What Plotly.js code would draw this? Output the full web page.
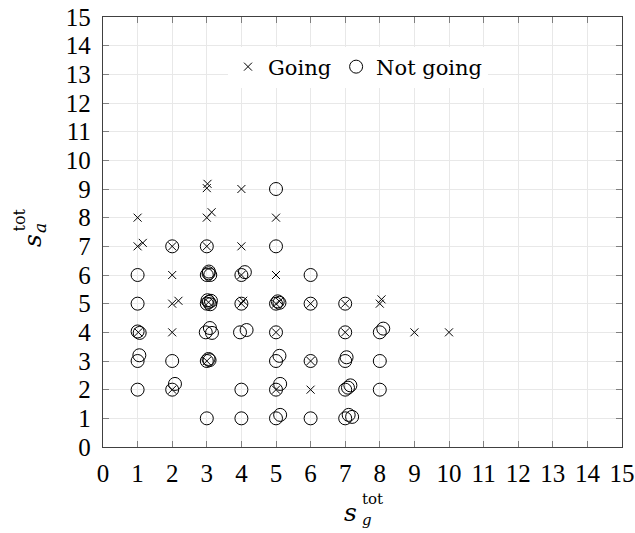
<!DOCTYPE html>
<html>
<head>
<meta charset="utf-8">
<script src="https://cdn.plot.ly/plotly-3.0.1.min.js"></script>
<style>html,body{margin:0;padding:0;background:#fff}#chart{width:635px;height:533px}</style>
</head>
<body>
<div id="chart"></div>
<script>
// Going (×) points (jittered duplicates included)
const goingX = [1, 1, 1.15, 2, 3, 4, 3, 3.02, 4, 3, 3.14, 5, 2, 5, 4, 2, 2.18, 3.05, 4, 4.05, 5, 5.1, 6, 7, 8, 8.05, 1.02, 2, 5, 7, 9, 10, 3, 6, 2, 5, 6];
const goingY = [8, 7, 7.12, 7, 7, 7, 9.03, 9.18, 9, 8, 8.19, 8, 6, 6, 6, 5, 5.1, 5.05, 5, 5.1, 5, 5.08, 5, 5, 5, 5.15, 4, 4, 4, 4, 4, 4, 3, 3, 2, 2, 2];

// Not going (○) points
const notX = [1, 1, 1, 1.06, 1, 1.05, 1,
  2, 2, 2, 2.08,
  3, 3, 3.05, 3.1, 3.06, 3, 3.06, 3.1, 3.02, 3.12, 2.97, 3.09, 3.15, 3, 3.05, 3.08, 3,
  4, 4.1, 4, 3.96, 4.15, 4, 4,
  5, 5, 5, 5.05, 5.1, 5, 5, 5.1, 5, 5.12, 5, 5.12,
  6, 6, 6, 6,
  7, 7, 7, 7.04, 7, 7.08, 7.15, 7, 7.1, 7.2,
  8, 8.1, 8, 8];
const notY = [6, 5, 4.03, 3.98, 3, 3.2, 2,
  7, 3, 2, 2.2,
  7, 6, 6.06, 6, 6.12, 5, 5.06, 4.98, 5.12, 5.1, 4, 4.15, 3.98, 3, 3.07, 3.03, 1,
  6, 6.1, 5, 4, 4.08, 2, 1,
  9, 7, 5, 5.08, 5.03, 4, 3, 3.18, 2, 2.2, 1, 1.12,
  6, 5, 3, 1,
  5, 4, 3, 3.13, 2, 2.07, 2.15, 1, 1.12, 1.05,
  4, 4.13, 3, 2];

const tickVals = [0,1,2,3,4,5,6,7,8,9,10,11,12,13,14,15];
const tickText = tickVals.map(String);
const seriesNames = ['Going', 'Not going'];

const serif = 'Liberation Serif';
const serif2 = 'DejaVu Serif';

const traces = [
  {
    x: goingX, y: goingY, type: 'scatter', mode: 'markers', name: seriesNames[0],
    marker: {symbol: 'x-thin-open', size: 8, color: '#000', line: {color: '#000', width: 1}}
  },
  {
    x: notX, y: notY, type: 'scatter', mode: 'markers', name: seriesNames[1],
    marker: {symbol: 'circle-open', size: 13, color: '#000', line: {color: '#000', width: 1}}
  }
];

const axisCommon = {
  range: [0, 15], tickmode: 'array', tickvals: tickVals, ticktext: tickText,
  ticks: 'inside', ticklen: 6, tickcolor: '#808080', tickwidth: 1,
  showline: true, linecolor: '#404040', linewidth: 1.2, mirror: 'ticks',
  showgrid: true, gridcolor: '#e8e8e8', gridwidth: 1, zeroline: false,
  tickfont: {family: serif, size: 25, color: '#000'}, fixedrange: true
};

const px2x = px => (px - 103) / 519;
const px2y = py => (447 - py) / 430;

const layout = {
  width: 635, height: 533,
  margin: {l: 103, r: 13, t: 17, b: 86},
  paper_bgcolor: '#fff', plot_bgcolor: '#fff',
  font: {family: serif, color: '#000'},
  xaxis: Object.assign({}, axisCommon, {ticklabelstandoff: 4}),
  yaxis: Object.assign({}, axisCommon, {ticklabelstandoff: 6}),
  showlegend: true,
  legend: {
    orientation: 'h', x: px2x(358), xanchor: 'center', y: px2y(67), yanchor: 'middle',
    bgcolor: '#fff', borderwidth: 0, font: {family: serif2, size: 21, color: '#000'},
    itemwidth: 30, tracegroupgap: 0
  },
  annotations: [
    {text: '<i>s</i>', xref: 'paper', yref: 'paper', x: px2x(350), y: px2y(512), xanchor: 'center', yanchor: 'middle', showarrow: false, font: {family: serif2, size: 25, color: '#000'}},
    {text: 'tot', xref: 'paper', yref: 'paper', x: px2x(360), y: px2y(499), xanchor: 'left', yanchor: 'middle', showarrow: false, font: {family: serif2, size: 15, color: '#000'}},
    {text: '<i>g</i>', xref: 'paper', yref: 'paper', x: px2x(360), y: px2y(520), xanchor: 'left', yanchor: 'middle', showarrow: false, font: {family: serif2, size: 15, color: '#000'}},
    {text: '<i>s</i>', xref: 'paper', yref: 'paper', x: px2x(32), y: px2y(241), xanchor: 'center', yanchor: 'middle', textangle: -90, showarrow: false, font: {family: serif2, size: 25, color: '#000'}},
    {text: 'tot', xref: 'paper', yref: 'paper', x: px2x(19), y: px2y(234), xanchor: 'center', yanchor: 'bottom', textangle: -90, showarrow: false, font: {family: serif2, size: 16, color: '#000'}},
    {text: '<i>a</i>', xref: 'paper', yref: 'paper', x: px2x(40), y: px2y(235), xanchor: 'center', yanchor: 'bottom', textangle: -90, showarrow: false, font: {family: serif2, size: 17, color: '#000'}}
  ]
};

Plotly.newPlot('chart', traces, layout, {staticPlot: true, displayModeBar: false});
</script>
</body>
</html>
